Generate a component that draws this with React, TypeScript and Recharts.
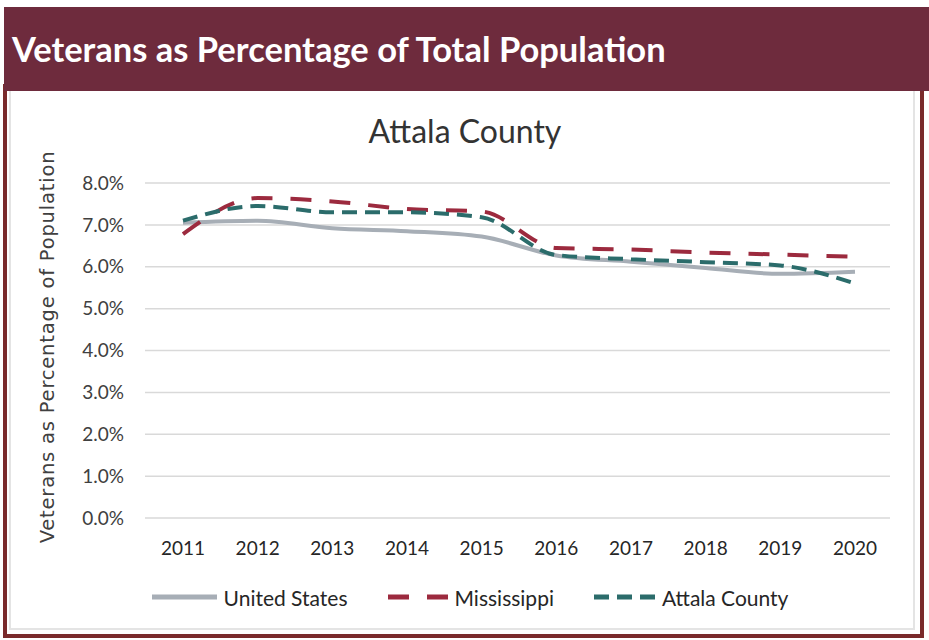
import React from "react";
import { LineChart, Line, XAxis, YAxis, CartesianGrid, Legend } from "recharts";

const years = ["2011", "2012", "2013", "2014", "2015", "2016", "2017", "2018", "2019", "2020"];
const unitedStates = [7.05, 7.1, 6.92, 6.85, 6.72, 6.27, 6.12, 5.97, 5.83, 5.88];
const mississippi = [6.78, 7.64, 7.56, 7.38, 7.32, 6.45, 6.41, 6.34, 6.29, 6.24];
const attalaCounty = [7.1, 7.45, 7.3, 7.3, 7.18, 6.28, 6.18, 6.11, 6.03, 5.6];
const yTicks = [0, 1, 2, 3, 4, 5, 6, 7, 8];

const SERIES = [
  { key: "us", name: "United States", color: "#a7aeb6", dash: undefined as string | undefined, swatch: 65 },
  { key: "ms", name: "Mississippi", color: "#9c2a3e", dash: "21 18", swatch: 60 },
  { key: "attala", name: "Attala County", color: "#2b6c6b", dash: "15 8", swatch: 61 },
];

const MAROON = "#6e2b3d";
const FONT = "Lato, 'Open Sans', sans-serif";

const rows = years.map((year, i) => ({
  year,
  us: unitedStates[i],
  ms: mississippi[i],
  attala: attalaCounty[i],
}));

// legend: long line swatches like Excel's, kept in series order
function LegendRow({ payload }: any) {
  const shown = SERIES.filter((s) => (payload || []).some((p: any) => p.dataKey === s.key));
  return (
    <div style={{ display: "flex", justifyContent: "center", alignItems: "center", height: 26, fontFamily: FONT }}>
      {shown.map((s) => (
        <div key={s.key} style={{ display: "flex", alignItems: "center", margin: "0 20px" }}>
          <svg width={s.swatch} height={10} style={{ marginRight: 7 }}>
            <line x1={0} y1={5} x2={s.swatch} y2={5} stroke={s.color} strokeWidth={5} strokeDasharray={s.dash} />
          </svg>
          <span style={{ fontSize: 21, color: "#262626" }}>{s.name}</span>
        </div>
      ))}
    </div>
  );
}

export default function App() {
  return (
    <div style={{ position: "absolute", left: 0, top: 0, width: 929, height: 640, background: "#fff", overflow: "hidden" }}>
      {/* frame */}
      <div
        style={{
          position: "absolute",
          left: 3,
          top: 84,
          width: 913,
          height: 546,
          border: "4px solid #7a2a2b",
        }}
      />
      <div
        style={{
          position: "absolute",
          left: 9,
          top: 88,
          width: 906,
          height: 542,
          border: "2px solid #e4e4e4",
          borderTop: "none",
          boxSizing: "border-box",
        }}
      />
      <div
        style={{
          position: "absolute",
          left: 4,
          top: 7,
          width: 925,
          height: 84,
          background: MAROON,
          color: "#fff",
          fontFamily: FONT,
          fontWeight: 700,
          fontSize: 34.5,
          display: "flex",
          alignItems: "center",
          paddingLeft: 8,
          paddingBottom: 2,
          boxSizing: "border-box",
        }}
      >
        Veterans as Percentage of Total Population
      </div>

      <div
        style={{
          position: "absolute",
          left: 465,
          top: 130,
          transform: "translate(-50%, -50%)",
          fontFamily: FONT,
          fontSize: 32,
          color: "#333",
          whiteSpace: "nowrap",
        }}
      >
        Attala County
      </div>
      <div
        style={{
          position: "absolute",
          left: 47,
          top: 347,
          transform: "translate(-50%, -50%) rotate(-90deg)",
          fontFamily: "'DejaVu Sans', sans-serif",
          fontSize: 19.5,
          letterSpacing: 0.8,
          color: "#404040",
          whiteSpace: "nowrap",
        }}
      >
        Veterans as Percentage of Population
      </div>

      <div style={{ position: "absolute", left: 10, top: 91 }}>
        <LineChart width={910} height={540} data={rows} margin={{ top: 92, right: 30, bottom: 21, left: 75 }}>
          <CartesianGrid stroke="#d9d9d9" strokeWidth={1.5} vertical={false} />
          <XAxis
            dataKey="year"
            axisLine={false}
            tickLine={false}
            tickSize={0}
            tickMargin={24}
            height={66}
            padding={{ left: 38, right: 35 }}
            tick={{ fill: "#262626", fontSize: 19, fontFamily: FONT }}
            interval={0}
          />
          <YAxis
            domain={[0, 8]}
            ticks={yTicks}
            axisLine={false}
            tickLine={false}
            tickSize={0}
            tickMargin={21}
            width={60}
            tickFormatter={(v: number) => `${v.toFixed(1)}%`}
            tick={{ fill: "#404040", fontSize: 19, fontFamily: FONT }}
          />
          <Legend verticalAlign="bottom" wrapperStyle={{ left: 5, width: 910 }} content={<LegendRow />} />
          {SERIES.map((s) => (
            <Line
              key={s.key}
              type="monotone"
              dataKey={s.key}
              name={s.name}
              stroke={s.color}
              strokeWidth={4}
              strokeDasharray={s.dash}
              dot={false}
              activeDot={false}
              isAnimationActive={false}
            />
          ))}
        </LineChart>
      </div>
    </div>
  );
}
